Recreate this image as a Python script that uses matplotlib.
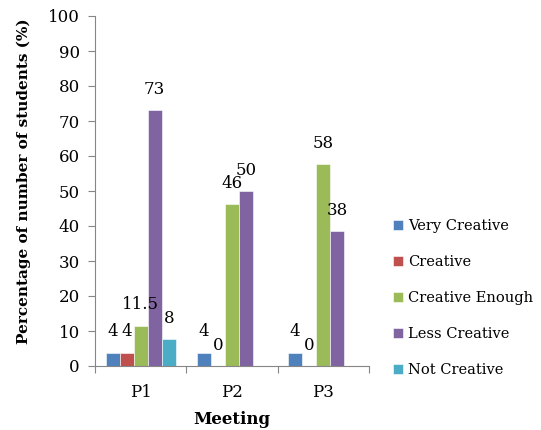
import numpy as np
import matplotlib.pyplot as plt

plt.rcParams['font.family'] = ['DejaVu Serif']

meetings = ['P1', 'P2', 'P3']
categories = ['Very Creative', 'Creative', 'Creative Enough', 'Less Creative', 'Not Creative']
colors = ['#4F81BD', '#C0504D', '#9BBB59', '#8064A2', '#4BACC6']

# percent of 26 students per meeting, nan = not reported
very_creative = [3.85, 3.85, 3.85]
creative = [3.85, 0, 0]
creative_enough = [11.5, 46.2, 57.7]
less_creative = [73.1, 50.0, 38.5]
not_creative = [7.7, np.nan, np.nan]

labels_very = ['4', '4', '4']
labels_creative = ['4', '0', '0']
labels_enough = ['11.5', '46', '58']
labels_less = ['73', '50', '38']
labels_not = ['8', '', '']

series = [very_creative, creative, creative_enough, less_creative, not_creative]
labels = [labels_very, labels_creative, labels_enough, labels_less, labels_not]

fig = plt.figure(figsize=(5.41, 4.3), dpi=100)
ax = fig.add_axes([95/541, 1-366/430, 274/541, 350/430])

x = np.arange(len(meetings))
w = 1 / 6.5
for i, (vals, labs) in enumerate(zip(series, labels)):
    pos = x + (i - 2) * w
    ax.bar(pos, vals, width=w, color=colors[i], label=categories[i],
           edgecolor='white', linewidth=0.4)
    for px, v, t in zip(pos, vals, labs):
        if np.isnan(v):
            continue
        ax.annotate(t, (px, v), xytext=(0, 15), textcoords='offset points',
                    ha='center', va='center', fontsize=12)

ax.set_xlim(-0.5, 2.5)
ax.set_ylim(0, 100)
ax.set_yticks(range(0, 101, 10))
ax.set_xticks([-0.5, 0.5, 1.5, 2.5])
ax.set_xticklabels([])
ax.set_xticks(x, minor=True)
ax.set_xticklabels(meetings, minor=True)
ax.tick_params(axis='x', which='minor', length=0, pad=13, labelsize=12)
ax.tick_params(axis='x', which='major', length=5, color='#868686')
ax.tick_params(axis='y', length=5, color='#868686', labelsize=12, pad=6)
for s in ['top', 'right']:
    ax.spines[s].set_visible(False)
for s in ['left', 'bottom']:
    ax.spines[s].set_color('#868686')

ax.set_xlabel('Meeting', fontweight='bold', fontsize=12, labelpad=7)
ax.set_ylabel('Percentage of number of students (%)', fontweight='bold', fontsize=11)
ax.yaxis.set_label_coords(-0.235, 0.529)

fig.legend(loc='center left', bbox_to_anchor=(380/541, 1-298/430), frameon=False,
           fontsize=10.5, handlelength=0.7, handleheight=0.7, handletextpad=0.3,
           labelspacing=1.5)

fig.savefig('out.png', dpi=100)
